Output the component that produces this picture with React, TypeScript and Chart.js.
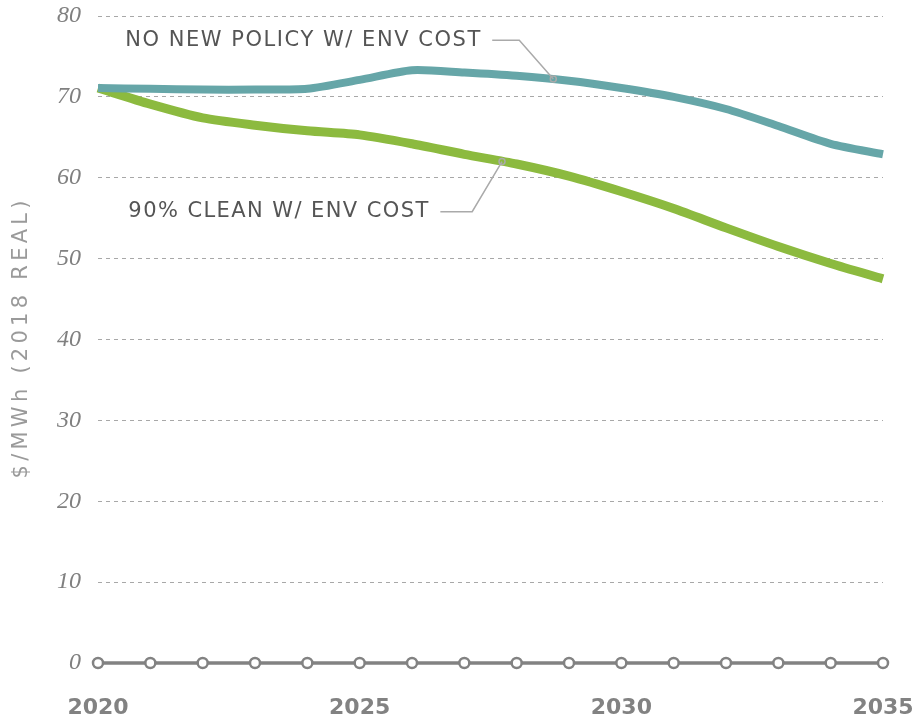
import React, { useEffect, useRef } from "react";
import { Chart, registerables } from "chart.js";

Chart.register(...registerables);

const years = ["2020","2021","2022","2023","2024","2025","2026","2027","2028","2029","2030","2031","2032","2033","2034","2035"];
const noNewPolicy = [71.1, 71.0, 70.9, 70.9, 71.0, 72.1, 73.3, 73.0, 72.6, 72.0, 71.1, 70.0, 68.5, 66.4, 64.2, 62.9];
const clean90 = [71.1, 69.1, 67.4, 66.5, 65.8, 65.3, 64.2, 62.9, 61.7, 60.2, 58.3, 56.2, 53.8, 51.5, 49.4, 47.5];
const zeroLine = years.map(() => 0);
const yTicks = [0, 10, 20, 30, 40, 50, 60, 70, 80];
const xTickLabels = ["2020", "2025", "2030", "2035"];
const seriesNames = ["NO NEW POLICY W/ ENV COST", "90% CLEAN W/ ENV COST"];
const yTitle = "$/MWh (2018 REAL)";

const TEAL = "#66a6a8";
const GREEN = "#8cba3f";
const GRAY = "#828282";

function fillSpaced(ctx: CanvasRenderingContext2D, text: string, x: number, y: number, targetW: number) {
  (ctx as any).letterSpacing = "0px";
  const w = ctx.measureText(text).width;
  const sp = Math.max(0, (targetW - w) / Math.max(1, text.length - 1));
  (ctx as any).letterSpacing = sp + "px";
  ctx.fillText(text, x, y);
  const w2 = w + sp * (text.length - 1);
  (ctx as any).letterSpacing = "0px";
  return w2;
}

const annotationPlugin = {
  id: "leaderLabels",
  afterDatasetsDraw(chart: any) {
    const { ctx } = chart;
    const xs = chart.scales.x;
    const ys = chart.scales.y;
    ctx.save();
    ctx.font = '21px "DejaVu Sans", sans-serif';
    ctx.fillStyle = "#555555";
    ctx.textBaseline = "middle";
    ctx.textAlign = "left";
    const items = [
      { text: seriesNames[0], tx: 0.52, ty: 77.0, tw: 355, mid: 8.05, end: 8.7, endV: 72.2 },
      { text: seriesNames[1], tx: 0.58, ty: 55.8, tw: 300, mid: 7.15, end: 7.72, endV: 62.0 },
    ];
    for (const it of items) {
      const x0 = xs.getPixelForValue(it.tx);
      const y0 = ys.getPixelForValue(it.ty);
      const w = fillSpaced(ctx, it.text, x0, y0, it.tw);
      const lx = x0 + w + 12;
      const mx = xs.getPixelForValue(it.mid);
      const ex = xs.getPixelForValue(it.end);
      const ey = ys.getPixelForValue(it.endV);
      ctx.strokeStyle = "#aaaaaa";
      ctx.lineWidth = 1.5;
      ctx.beginPath();
      ctx.moveTo(lx, y0);
      ctx.lineTo(mx, y0);
      ctx.lineTo(ex, ey);
      ctx.stroke();
      ctx.beginPath();
      ctx.arc(ex, ey, 3, 0, Math.PI * 2);
      ctx.stroke();
    }
    // y-axis title
    const ca = chart.chartArea;
    ctx.save();
    ctx.translate(22, (ca.top + ca.bottom) / 2);
    ctx.rotate(-Math.PI / 2);
    ctx.font = '21px "DejaVu Sans", sans-serif';
    ctx.fillStyle = "#9a9a9a";
    ctx.textAlign = "left";
    const tw = 278;
    fillSpaced(ctx, yTitle, -tw / 2, 0, tw);
    ctx.restore();
    ctx.restore();
  },
};

export default function App() {
  const ref = useRef<HTMLCanvasElement>(null);
  useEffect(() => {
    if (!ref.current) return;
    const chart = new Chart(ref.current, {
      type: "line",
      data: {
        labels: years,
        datasets: [
          {
            label: "zero",
            data: zeroLine,
            borderColor: GRAY,
            borderWidth: 3.5,
            pointRadius: 5,
            pointBorderWidth: 2.5,
            pointBackgroundColor: "#ffffff",
            pointBorderColor: GRAY,
            tension: 0,
            clip: false as any,
            order: 3,
          },
          {
            label: seriesNames[1],
            data: clean90,
            borderColor: GREEN,
            borderWidth: 9,
            pointRadius: 0,
            tension: 0.25,
            borderCapStyle: "butt",
            order: 2,
          },
          {
            label: seriesNames[0],
            data: noNewPolicy,
            borderColor: TEAL,
            borderWidth: 8,
            pointRadius: 0,
            tension: 0.25,
            borderCapStyle: "butt",
            order: 1,
          },
        ],
      },
      options: {
        animation: false,
        responsive: false,
        layout: { padding: { top: 16, right: 37, left: 0, bottom: 0 } },
        plugins: { legend: { display: false }, tooltip: { enabled: false } },
        scales: {
          x: {
            offset: false,
            grid: { display: false },
            border: { display: false },
            ticks: {
              autoSkip: false,
              maxRotation: 0,
              color: GRAY,
              font: { family: '"DejaVu Sans", sans-serif', size: 22, weight: "bold" },
              padding: 24,
              callback: (_v: any, i: number) => (xTickLabels.includes(years[i]) ? years[i] : ""),
            },
            afterFit: (s: any) => { s.height = 57; s.paddingLeft = 0; s.paddingRight = 0; },
          },
          y: {
            min: 0,
            max: 80,
            afterBuildTicks: (s: any) => { s.ticks = yTicks.map((v) => ({ value: v })); },
            grid: {
              color: (c: any) => (c.tick && c.tick.value === 0 ? "rgba(0,0,0,0)" : "#a8a8a8"),
              lineWidth: 1,
              drawTicks: false,
            },
            border: { display: false, dash: [4, 4] },
            ticks: {
              color: "#808080",
              padding: 17,
              font: { family: '"Liberation Serif", serif', size: 24, style: "italic" },
            },
            afterFit: (s: any) => { s.width = 98; s.paddingTop = 0; s.paddingBottom = 0; },
          },
        },
      },
      plugins: [annotationPlugin],
    });
    return () => chart.destroy();
  }, []);
  return (
    <div style={{ position: "fixed", left: 0, top: 0, width: 920, height: 720, background: "#fff" }}>
      <canvas ref={ref} width={920} height={720} style={{ width: 920, height: 720, display: "block" }} />
    </div>
  );
}
